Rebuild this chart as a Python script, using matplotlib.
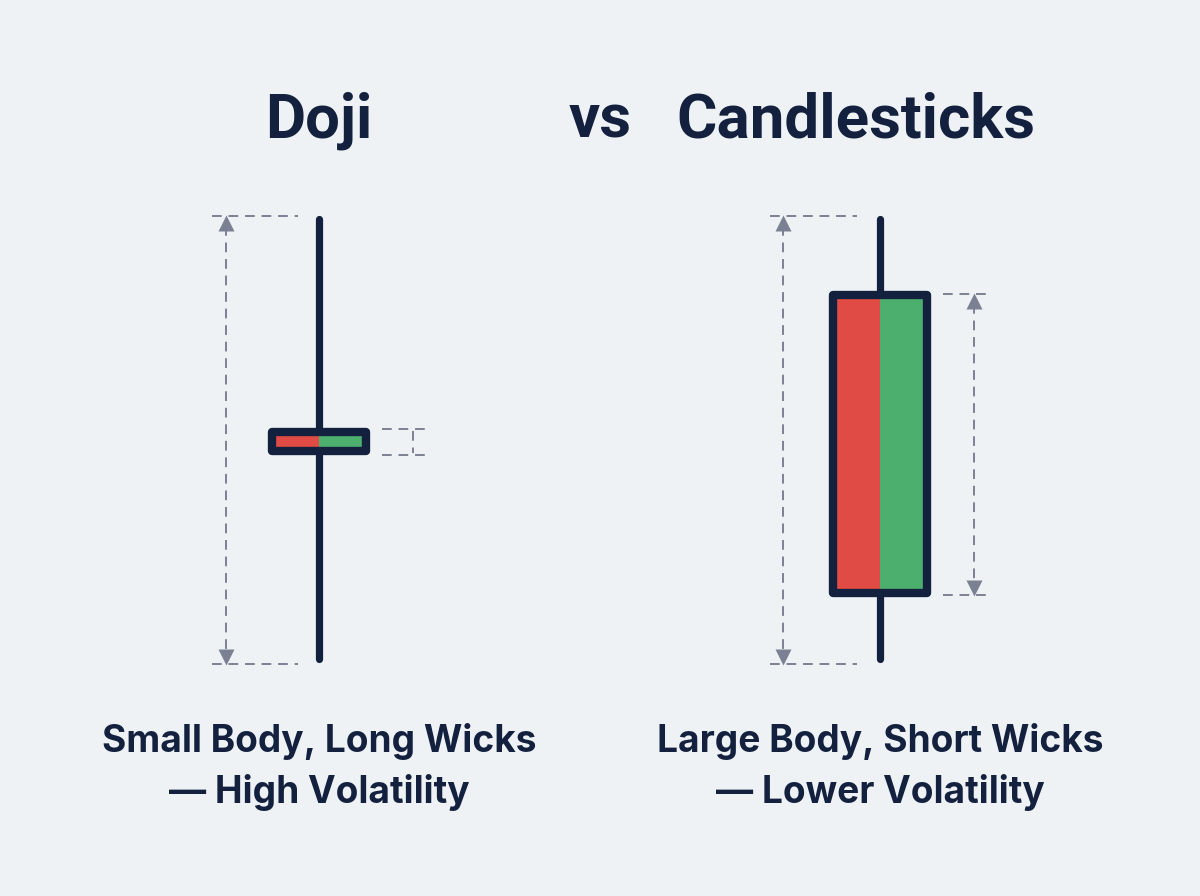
import matplotlib
matplotlib.use("Agg")
import matplotlib.pyplot as plt
from matplotlib.patches import Rectangle

# candle values (vertical scale runs downward, like the picture)
names = ["Doji", "Candlesticks"]
centers = [319, 880]
highs = [219, 219]
lows = [659, 659]
body_tops = [432, 295]
body_bottoms = [451, 593]
caption_top = ["Small Body, Long Wicks", "Large Body, Short Wicks"]
caption_bottom = ["\u2014 High Volatility", "\u2014 Lower Volatility"]

NAVY = "#13213f"
RED = "#e04b45"
GREEN = "#4caf6e"
GREY = "#7b8193"
BG = "#eef2f5"

plt.rcParams['font.family'] = ['Roboto', 'DejaVu Sans']

fig = plt.figure(figsize=(12, 8.96), dpi=100, facecolor=BG)
ax = fig.add_axes([0, 0, 1, 1])
ax.set_facecolor(BG)
ax.set_xlim(0, 1200)
ax.set_ylim(896, 0)
ax.axis("off")

half_w = 47
dash = dict(color=GREY, lw=1.4, ls=(0, (5, 3.5)))


def measure(x, y0, y1, x_from, x_to, arrows=True):
    # dashed guides and a double-headed range marker
    ax.plot([x_from, x_to], [y0, y0], **dash)
    ax.plot([x_from, x_to], [y1, y1], **dash)
    if arrows:
        ax.plot([x, x], [y0 + 10, y1 - 10], **dash)
        ax.plot(x, y0 + 7, marker="^", ms=11, color=GREY, mec="none")
        ax.plot(x, y1 - 7, marker="v", ms=11, color=GREY, mec="none")
    else:
        ax.plot([x, x], [y0 + 2, y1 - 2], **dash)


for i in range(len(names)):
    cx = centers[i]
    ax.plot([cx, cx], [highs[i], lows[i]], color=NAVY, lw=5.2,
            solid_capstyle="round", zorder=2)
    top, bot = body_tops[i], body_bottoms[i]
    ax.add_patch(Rectangle((cx - half_w, top), half_w, bot - top,
                           facecolor=RED, edgecolor="none", zorder=3))
    ax.add_patch(Rectangle((cx, top), half_w, bot - top,
                           facecolor=GREEN, edgecolor="none", zorder=3))
    ax.add_patch(Rectangle((cx - half_w, top), 2 * half_w, bot - top,
                           facecolor="none", edgecolor=NAVY, lw=6,
                           joinstyle="round", zorder=4))
    ax.text(cx, 752, caption_top[i], ha="center", va="baseline",
            fontsize=26.7, fontweight="bold", color=NAVY,
            family=['Inter', 'DejaVu Sans'])
    ax.text(cx, 803, caption_bottom[i], ha="center", va="baseline",
            fontsize=26.7, fontweight="bold", color=NAVY,
            family=['Inter', 'DejaVu Sans'])

# range markers
measure(226, 216, 664, 212, 298)
measure(413, 429, 455, 382, 427, arrows=False)
measure(783, 216, 664, 770, 857)
measure(974, 294, 595, 943, 989)

ax.text(centers[0], 137, names[0], ha="center", va="baseline",
        fontsize=44.5, fontweight="bold", color=NAVY)
ax.text(600, 137, "vs", ha="center", va="baseline",
        fontsize=44.5, fontweight="bold", color=NAVY)
ax.text(856, 137, names[1], ha="center", va="baseline",
        fontsize=44.5, fontweight="bold", color=NAVY)

fig.savefig("out.png", dpi=100, facecolor=BG)
